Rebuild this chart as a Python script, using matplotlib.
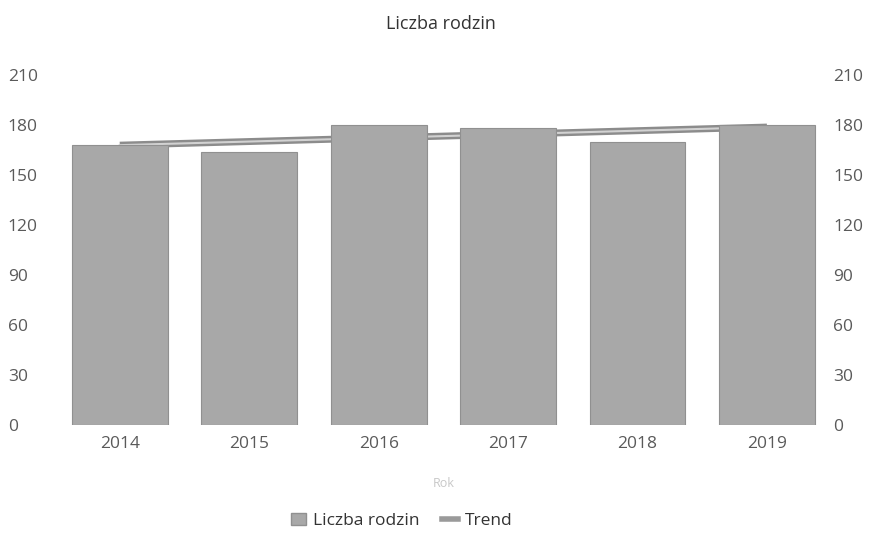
import numpy as np
import matplotlib.pyplot as plt
from matplotlib.lines import Line2D
from matplotlib.patches import Patch

# Dane
lata = ['2014', '2015', '2016', '2017', '2018', '2019']
liczba_rodzin = [168, 164, 180, 178, 170, 180]
y_ticks = [0, 30, 60, 90, 120, 150, 180, 210]

plt.rcParams['font.family'] = ['Open Sans', 'DejaVu Sans']

fig = plt.figure(figsize=(8.81, 5.33), dpi=100)
ax = fig.add_axes([0.0625, 0.2026, 0.8815, 0.6567])

x = np.arange(len(lata))
ax.bar(x, liczba_rodzin, width=0.74, color='#a8a8a8', edgecolor='#909090',
       linewidth=0.8, zorder=2)

# linia trendu (regresja liniowa), rysowana za słupkami
a, b = np.polyfit(x, liczba_rodzin, 1)
ax.plot(x, a * x + b, color='#8c8c8c', linewidth=5, zorder=1,
        solid_capstyle='butt')
ax.plot(x, a * x + b, color='#d2d2d2', linewidth=1.5, zorder=1.5)

ax.set_xlim(-0.5, len(lata) - 0.5)
ax.set_ylim(0, 210)
ax.set_yticks(y_ticks)
ax.set_xticks(x)
ax.set_xticklabels(lata)
for s in ax.spines.values():
    s.set_visible(False)
ax.tick_params(axis='both', length=0, labelsize=12.5, colors='#5a5a5a')
ax.tick_params(axis='x', pad=8)
ax.tick_params(axis='y', pad=34)
for lbl in ax.get_yticklabels():
    lbl.set_horizontalalignment('left')

ax2 = ax.twinx()
ax2.set_ylim(0, 210)
ax2.set_yticks(y_ticks)
for s in ax2.spines.values():
    s.set_visible(False)
ax2.tick_params(axis='y', length=0, labelsize=12.5, colors='#5a5a5a', pad=1)

ax.set_xlabel('Rok', fontsize=9, color='#c8c8c8', labelpad=18)
fig.text(0.5, 0.955, 'Liczba rodzin', ha='center', va='center',
         fontsize=13, color='#333333')

handles = [Patch(facecolor='#a8a8a8', edgecolor='#909090', label='Liczba rodzin'),
           Line2D([0], [0], color='#9a9a9a', linewidth=4, label='Trend')]
fig.legend(handles=handles, loc='center', bbox_to_anchor=(0.456, 0.022), ncol=2,
           frameon=False, fontsize=12.5, handlelength=0.9, handletextpad=0.4,
           columnspacing=1.3, labelcolor='#333333')

plt.savefig('out.png', dpi=100)
